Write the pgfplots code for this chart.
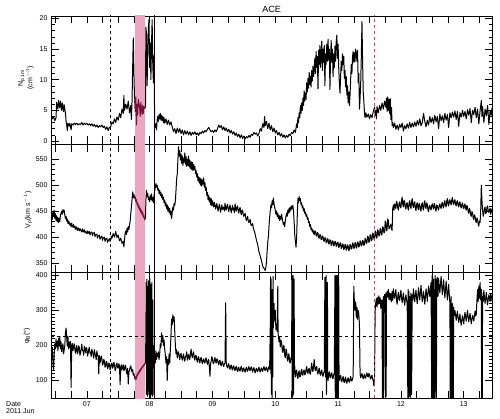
\documentclass[border=0pt]{standalone}
\usepackage{pgfplots}
\usepackage{pgfplotstable}
\pgfplotsset{compat=1.18}
\usepackage{fontspec}
\setmainfont{Liberation Sans}
\definecolor{pinkband}{RGB}{236,166,194}
\definecolor{maroon}{RGB}{118,18,58}
\definecolor{reddash}{RGB}{214,62,92}

\pgfplotstableread{
x y
6.43 4.2
6.45 3.6
6.47 4.0
6.49 3.3
6.51 3.8
6.52 6.3
6.54 5.2
6.55 6.6
6.57 5.4
6.58 6.5
6.60 5.0
6.61 6.2
6.63 4.8
6.64 5.9
6.66 4.5
6.67 3.2
6.68 2.6
6.69 1.7
6.70 2.9
6.72 2.4
6.73 2.9
6.75 1.8
6.76 2.8
6.78 2.6
6.80 2.9
6.82 2.7
6.84 2.9
6.86 2.6
6.88 2.8
6.90 2.7
6.92 3.0
6.94 2.6
6.96 2.9
6.98 2.7
7.00 2.9
7.02 2.6
7.04 2.8
7.06 2.5
7.08 2.8
7.10 2.4
7.12 2.7
7.14 2.3
7.16 2.6
7.18 2.2
7.20 2.5
7.22 2.3
7.24 2.6
7.26 2.2
7.28 2.4
7.30 1.9
7.32 2.3
7.34 1.7
7.36 2.2
7.38 2.3
7.40 3.1
7.42 2.8
7.44 3.6
7.46 3.0
7.48 3.9
7.50 3.4
7.52 4.5
7.54 3.8
7.56 5.2
7.58 4.5
7.59 7.4
7.60 5.0
7.62 6.0
7.64 5.2
7.66 6.5
7.68 4.6
7.70 5.8
7.71 3.5
7.72 6.5
7.73 12.0
7.74 16.8
7.75 11.0
7.76 6.8
}\npA
\pgfplotstableread{
x y
7.76 6.8
7.77 4.8
7.78 7.2
7.79 2.6
7.80 6.0
7.81 4.2
7.82 6.8
7.84 5.5
7.85 4.0
7.86 6.3
7.87 5.2
7.88 4.3
7.89 5.8
7.90 4.5
7.91 5.6
7.92 5.3
7.934 5.5
}\npB
\pgfplotstableread{
x y
7.934 5.5
7.94 18.6
7.95 17.5
7.96 9.0
7.97 14.0
7.98 18.5
7.99 19.8
8.00 12.0
8.01 16.0
8.02 10.0
8.03 15.8
8.04 19.8
8.05 12.5
8.06 9.5
8.07 14.0
8.08 3.0
8.09 2.2
8.10 2.8
8.11 1.8
8.12 3.5
8.13 4.0
8.14 3.2
8.15 4.3
8.16 3.6
8.17 4.5
8.18 3.4
8.19 4.2
8.20 3.3
8.21 4.0
8.22 3.0
8.23 3.8
8.24 2.9
8.26 3.6
8.28 2.7
8.30 3.4
8.32 2.6
8.34 3.1
8.36 2.3
8.38 1.5
8.40 2.0
8.42 1.2
8.44 2.1
8.46 1.4
8.48 2.0
8.50 1.2
8.52 1.8
8.54 1.0
8.56 1.7
8.58 1.1
8.60 1.6
8.62 1.0
8.64 1.5
8.66 0.9
8.68 1.4
8.70 1.1
8.72 1.5
8.74 1.0
8.76 1.3
8.78 0.9
8.80 1.4
8.82 1.2
8.84 1.6
8.86 1.3
8.88 1.7
8.90 1.5
8.92 1.9
8.94 2.2
8.96 1.8
8.98 1.5
9.00 1.7
9.02 1.4
9.04 1.8
9.06 1.5
9.08 2.0
9.10 2.6
9.12 2.2
9.14 2.5
9.16 1.8
9.18 2.3
9.20 1.7
9.22 2.1
9.24 1.5
9.26 1.9
9.28 1.3
9.30 1.7
9.32 1.1
9.34 1.5
9.36 0.9
9.38 1.3
9.40 0.7
9.42 1.1
9.44 0.5
9.46 1.0
9.48 0.4
9.50 0.8
9.52 0.3
9.54 0.7
9.56 0.5
9.58 0.9
9.60 0.6
9.62 1.1
9.64 0.9
9.66 1.4
9.68 1.1
9.70 1.3
9.72 0.8
9.74 1.2
9.76 2.0
9.78 1.6
9.80 2.8
9.82 2.2
9.83 4.0
9.84 2.5
9.86 3.2
9.88 2.0
9.90 2.9
9.92 1.8
9.94 2.5
9.96 1.5
9.98 2.1
10.00 1.3
10.02 1.7
10.04 1.0
10.06 1.4
10.08 0.8
10.10 1.2
10.12 0.6
10.14 1.0
10.16 0.5
10.18 0.9
10.20 0.6
10.22 1.1
10.24 0.9
10.26 1.4
10.28 1.2
10.30 1.8
10.32 1.4
10.34 2.8
10.35 2.2
10.36 3.8
10.37 3.0
10.38 4.6
10.39 3.8
10.40 5.8
10.41 4.5
10.42 6.2
10.43 5.0
10.44 7.0
10.45 5.8
10.46 8.2
10.47 6.5
10.48 7.8
10.49 6.8
10.50 9.5
10.51 8.0
10.52 10.2
10.53 8.6
10.54 11.2
10.55 9.2
10.56 10.6
10.57 8.8
10.58 11.5
10.59 9.8
10.60 12.2
10.61 10.5
10.62 11.8
10.63 13.5
10.64 11.0
10.65 14.6
10.66 12.0
10.67 13.8
10.68 8.5
10.69 14.8
10.70 12.5
10.71 15.6
10.72 12.0
10.73 14.0
10.74 16.3
10.75 11.5
10.76 15.0
10.77 12.8
10.78 15.6
10.79 9.0
10.80 14.2
10.81 12.5
10.82 15.8
10.83 13.0
10.84 16.6
10.85 13.2
10.86 15.0
10.87 8.4
10.88 13.5
10.89 16.4
10.90 12.8
10.91 15.0
10.92 10.5
10.93 14.2
10.94 12.0
10.95 15.5
10.96 13.0
10.97 16.2
10.98 17.3
10.99 13.5
11.00 15.8
11.01 12.0
11.02 9.5
11.03 7.8
11.04 10.5
11.05 13.0
11.06 11.5
11.07 14.2
11.08 12.5
11.09 13.8
11.10 10.2
11.11 11.5
11.12 8.8
11.13 10.5
11.14 7.5
11.15 9.0
11.16 6.2
11.17 8.0
11.18 5.8
11.19 7.5
11.20 10.0
11.21 12.5
11.22 11.0
11.23 13.8
11.24 14.6
11.25 12.8
11.26 14.4
11.27 13.0
11.28 15.0
11.29 14.2
11.30 13.0
11.31 14.8
11.32 9.5
11.33 11.0
11.34 5.2
11.35 7.0
11.36 9.5
11.37 14.0
11.38 19.5
11.39 13.0
11.40 8.0
11.41 6.5
11.42 4.5
11.43 3.8
11.44 4.6
11.46 3.9
11.48 4.4
11.50 3.6
11.52 4.3
11.54 3.8
11.56 4.8
11.58 5.5
11.59 4.2
11.60 5.0
11.61 3.6
11.62 5.6
11.64 4.6
11.66 5.8
11.68 5.0
11.70 6.2
11.72 5.2
11.74 6.5
11.76 5.5
11.77 7.0
11.78 4.8
11.79 7.2
11.80 5.0
11.81 6.8
11.82 4.5
11.83 6.9
11.84 3.5
11.85 5.5
11.86 2.5
11.87 3.0
11.88 2.2
11.90 2.9
11.92 1.9
11.94 2.6
11.96 1.8
11.98 2.7
12.00 2.2
12.02 2.9
12.04 1.6
12.06 2.5
12.08 2.0
12.10 2.8
12.12 2.1
12.14 3.0
12.16 2.2
12.18 2.9
12.20 2.3
12.22 3.1
12.24 2.4
12.26 3.3
12.28 2.6
12.30 3.6
12.32 2.5
12.34 3.0
12.36 4.5
12.38 3.2
12.40 2.3
12.42 3.4
12.44 2.6
12.46 4.0
12.48 3.0
12.50 3.8
12.52 2.8
12.54 4.2
12.56 3.1
12.58 4.0
12.60 2.0
12.62 4.4
12.64 3.3
12.66 4.1
12.68 3.0
12.70 4.5
12.72 3.4
12.74 4.3
12.76 2.2
12.78 4.6
12.80 3.8
12.82 4.7
12.84 3.9
12.86 4.9
12.88 3.5
12.90 4.8
12.92 2.4
12.94 4.6
12.96 3.9
12.98 5.0
13.00 4.0
13.02 4.8
13.04 3.6
13.06 5.1
13.08 4.2
13.10 5.3
13.12 3.0
13.14 5.0
13.16 4.3
13.18 5.5
13.20 3.8
13.22 5.2
13.24 2.8
13.26 4.9
13.28 6.6
13.29 4.0
13.30 5.6
13.32 3.0
13.34 5.2
13.36 4.1
13.38 5.8
13.40 2.7
13.42 5.0
13.44 4.2
13.45 5.4
}\npC

\pgfplotstableread{
x y
6.43 438
6.44 446
6.45 434
6.46 448
6.47 440
6.48 452
6.49 436
6.50 445
6.51 432
6.52 441
6.53 430
6.54 438
6.55 428
6.56 436
6.57 430
6.58 442
6.59 446
6.60 450
6.61 444
6.62 453
6.63 448
6.64 452
6.65 442
6.66 436
6.67 440
6.68 431
6.69 435
6.70 426
6.71 431
6.72 428
6.73 423
6.74 426
6.75 420
6.76 427
6.77 421
6.78 419
6.79 424
6.80 418
6.81 421
6.82 415
6.83 420
6.84 417
6.85 413
6.86 418
6.88 412
6.89 417
6.90 414
6.92 410
6.93 416
6.94 410
6.96 414
6.97 408
6.98 411
7.00 407
7.01 412
7.02 407
7.04 411
7.05 404
7.06 408
7.08 410
7.09 403
7.10 407
7.12 409
7.13 401
7.14 404
7.16 406
7.17 398
7.18 402
7.20 404
7.21 396
7.22 399
7.24 402
7.25 394
7.26 398
7.28 400
7.29 392
7.30 396
7.32 398
7.33 390
7.34 393
7.36 397
7.37 392
7.38 394
7.39 402
7.40 398
7.42 407
7.44 400
7.46 411
7.48 399
7.50 404
7.52 393
7.54 398
7.56 388
7.58 392
7.59 381
7.60 395
7.61 408
7.62 412
7.63 405
7.64 417
7.65 410
7.66 420
7.67 415
7.68 424
7.69 430
7.70 445
7.71 458
7.72 472
7.73 487
7.74 476
7.75 482
7.76 474
}\vpA
\pgfplotstableread{
x y
7.76 474
7.77 478
7.78 468
7.79 472
7.80 462
7.81 466
7.82 456
7.83 461
7.84 452
7.85 456
7.86 447
7.87 452
7.88 443
7.89 448
7.90 438
7.91 442
7.92 433
7.934 436
}\vpB
\pgfplotstableread{
x y
7.934 436
7.94 470
7.95 490
7.96 478
7.97 484
7.98 472
7.99 476
8.00 468
8.01 480
8.02 472
8.03 483
8.04 470
8.05 476
8.06 466
8.07 480
8.08 488
8.09 495
8.10 503
8.11 496
8.12 500
8.13 490
8.14 494
8.15 484
8.16 490
8.17 480
8.18 486
8.19 476
8.20 482
8.21 472
8.22 477
8.23 466
8.24 471
8.25 460
8.26 466
8.27 455
8.28 462
8.29 450
8.30 458
8.31 447
8.32 455
8.33 443
8.34 450
8.35 436
8.36 448
8.37 458
8.38 452
8.39 465
8.40 461
8.41 470
8.42 490
8.43 512
8.44 522
8.45 548
8.46 574
8.47 556
8.48 566
8.49 548
8.50 560
8.51 542
8.52 556
8.53 538
8.54 552
8.55 544
8.56 562
8.57 540
8.58 555
8.59 536
8.60 550
8.61 538
8.62 556
8.63 535
8.64 548
8.65 532
8.66 545
8.67 530
8.68 544
8.69 528
8.70 540
8.71 530
8.72 536
8.73 522
8.74 528
8.75 516
8.76 522
8.77 508
8.78 516
8.79 504
8.80 514
8.81 500
8.82 512
8.83 498
8.84 510
8.85 502
8.86 514
8.87 496
8.88 505
8.89 490
8.90 496
8.91 480
8.92 486
8.93 472
8.94 480
8.95 468
8.96 476
8.97 462
8.98 474
8.99 460
9.00 470
9.01 463
9.02 458
9.03 467
9.04 462
9.05 454
9.06 459
9.07 465
9.08 456
9.09 450
9.10 458
9.11 463
9.12 455
9.13 448
9.14 456
9.15 462
9.16 453
9.18 458
9.19 450
9.20 465
9.21 457
9.22 452
9.23 460
9.24 463
9.25 454
9.26 449
9.27 457
9.28 462
9.29 453
9.30 447
9.31 455
9.32 461
9.33 452
9.34 456
9.35 447
9.36 464
9.37 455
9.38 450
9.39 458
9.40 460
9.41 451
9.42 446
9.43 454
9.44 457
9.45 448
9.46 443
9.47 451
9.48 452
9.49 444
9.50 440
9.52 446
9.53 437
9.54 432
9.56 440
9.57 431
9.58 428
9.60 434
9.61 425
9.62 422
9.64 426
9.65 418
9.66 414
9.68 406
9.70 394
9.72 386
9.74 372
9.76 364
9.78 355
9.80 344
9.82 340
9.84 336
9.85 342
9.86 352
9.87 372
9.88 390
9.89 400
9.90 420
9.91 438
9.92 450
9.93 462
9.94 456
9.95 470
9.96 462
9.97 475
9.98 464
9.99 458
10.00 452
10.01 444
10.02 450
10.03 440
10.04 446
10.05 436
10.06 442
10.07 432
10.08 440
10.09 434
10.10 444
10.11 436
10.12 430
10.13 424
10.14 428
10.15 420
10.16 432
10.17 440
10.18 446
10.19 440
10.20 452
10.21 446
10.22 456
10.23 448
10.24 458
10.25 452
10.26 460
10.27 455
10.28 461
10.29 450
10.30 430
10.31 405
10.32 392
10.33 381
10.34 398
10.35 440
10.36 474
10.37 466
10.38 478
10.39 470
10.40 474
10.41 462
10.42 466
10.43 456
10.44 460
10.45 450
10.46 455
10.47 445
10.48 448
10.49 440
10.50 444
10.51 434
10.52 438
10.53 428
10.54 430
10.55 420
10.56 424
10.57 414
10.58 418
10.59 410
10.60 414
10.61 407
10.62 405
10.63 412
10.64 411
10.65 403
10.66 402
10.67 409
10.68 408
10.69 399
10.70 398
10.71 405
10.72 404
10.73 395
10.74 396
10.75 402
10.76 401
10.77 393
10.78 392
10.79 399
10.80 398
10.81 389
10.82 390
10.83 397
10.84 396
10.85 387
10.86 388
10.87 395
10.88 394
10.89 384
10.90 386
10.91 393
10.92 392
10.93 383
10.94 385
10.95 392
10.96 391
10.97 382
10.98 384
10.99 390
11.00 390
11.01 380
11.02 382
11.03 389
11.04 388
11.05 378
11.06 380
11.07 387
11.08 386
11.09 376
11.10 378
11.11 386
11.12 385
11.13 375
11.14 377
11.15 385
11.16 383
11.17 374
11.18 376
11.19 386
11.20 384
11.21 377
11.22 379
11.23 389
11.24 387
11.25 378
11.26 380
11.27 390
11.28 388
11.29 379
11.30 381
11.31 391
11.32 389
11.33 381
11.34 383
11.35 393
11.36 391
11.37 383
11.38 385
11.39 394
11.40 392
11.41 384
11.42 386
11.43 398
11.44 396
11.45 388
11.46 390
11.47 402
11.48 400
11.49 390
11.50 392
11.51 405
11.52 403
11.53 393
11.54 395
11.55 408
11.56 406
11.57 396
11.58 398
11.59 412
11.60 410
11.61 398
11.62 400
11.63 414
11.64 412
11.65 402
11.66 404
11.67 417
11.68 415
11.69 404
11.70 406
11.71 420
11.72 418
11.73 408
11.74 410
11.75 431
11.76 428
11.77 412
11.78 415
11.79 435
11.80 432
11.81 416
11.82 418
11.84 425
11.85 416
11.86 413
11.87 455
11.88 462
11.89 452
11.90 464
11.91 458
11.92 455
11.93 469
11.94 466
11.95 456
11.96 452
11.97 464
11.98 468
11.99 459
12.00 456
12.01 470
12.02 477
12.03 462
12.04 458
12.05 471
12.06 468
12.07 457
12.08 454
12.09 465
12.10 466
12.11 456
12.12 452
12.13 466
12.14 470
12.15 459
12.16 455
12.17 469
12.18 474
12.19 460
12.20 457
12.21 466
12.22 468
12.23 455
12.24 451
12.25 463
12.26 466
12.27 456
12.28 453
12.29 465
12.30 462
12.31 453
12.32 450
12.33 463
12.34 466
12.35 455
12.36 452
12.37 466
12.38 470
12.39 458
12.40 455
12.41 466
12.42 463
12.43 452
12.44 449
12.45 459
12.46 461
12.47 455
12.48 452
12.49 461
12.50 464
12.51 457
12.52 454
12.53 465
12.54 462
12.55 453
12.56 450
12.57 462
12.58 460
12.59 455
12.60 452
12.61 461
12.62 464
12.63 458
12.64 455
12.65 464
12.66 467
12.67 459
12.68 456
12.69 467
12.70 470
12.71 461
12.72 458
12.73 470
12.74 474
12.75 463
12.76 460
12.77 470
12.78 472
12.79 465
12.80 462
12.81 472
12.82 476
12.83 466
12.84 463
12.85 470
12.86 472
12.87 463
12.88 460
12.89 468
12.90 470
12.91 461
12.92 458
12.93 466
12.94 468
12.95 459
12.96 456
12.97 463
12.98 466
12.99 458
13.00 455
13.01 461
13.02 464
13.03 455
13.04 452
13.05 461
13.06 458
13.07 449
13.08 446
13.09 455
13.10 452
13.11 443
13.12 440
13.13 449
13.14 447
13.15 437
13.16 434
13.17 443
13.18 440
13.19 431
13.20 428
13.21 437
13.22 434
13.23 424
13.24 421
13.25 431
13.26 428
13.27 450
13.28 500
13.29 470
13.30 452
13.31 440
13.32 446
13.33 455
13.34 458
13.35 445
13.36 448
13.37 457
13.38 460
13.39 450
13.40 447
13.41 452
13.42 456
13.43 444
13.44 449
13.45 455
}\vpC

\pgfplotstableread{
x y
6.43 188
6.44 172
6.45 195
6.46 150
6.47 128
6.48 170
6.49 205
6.50 190
6.51 218
6.52 196
6.53 212
6.54 185
6.55 220
6.56 198
6.57 226
6.58 190
6.59 210
6.60 182
6.61 196
6.62 205
6.63 176
6.64 188
6.65 200
6.66 236
6.67 250
6.68 222
6.69 198
6.70 226
6.71 190
6.72 210
6.73 194
6.74 212
6.75 80
6.76 198
6.77 206
6.78 185
6.79 196
6.80 205
6.81 188
6.82 178
6.83 192
6.84 200
6.85 176
6.86 182
6.87 199
6.88 195
6.89 172
6.90 178
6.91 190
6.92 204
6.93 186
6.94 185
6.95 172
6.96 198
6.97 188
6.98 180
6.99 194
7.00 192
7.01 170
7.02 176
7.03 188
7.04 195
7.05 178
7.06 181
7.07 168
7.08 190
7.09 182
7.10 174
7.11 164
7.12 188
7.13 178
7.14 170
7.15 160
7.16 185
7.17 174
7.18 168
7.19 120
7.20 172
7.21 150
7.22 158
7.23 170
7.24 164
7.25 144
7.26 148
7.27 160
7.28 156
7.29 138
7.30 140
7.31 155
7.32 152
7.33 134
7.34 138
7.35 150
7.36 148
7.37 130
7.38 136
7.39 148
7.40 150
7.41 135
7.42 140
7.43 152
7.44 146
7.45 128
7.46 132
7.47 145
7.48 150
7.49 138
7.50 135
7.51 148
7.52 142
7.53 88
7.54 138
7.55 145
7.56 130
7.57 138
7.58 145
7.59 128
7.60 132
7.61 144
7.62 140
7.63 125
7.64 118
7.65 135
7.66 90
7.67 124
7.68 130
7.69 138
7.70 142
7.71 130
7.72 124
7.73 132
7.74 115
7.75 120
7.76 108
}\phA
\pgfplotstableread{
x y
7.76 108
7.77 102
7.78 112
7.79 104
7.80 118
7.81 114
7.82 125
7.83 120
7.84 130
7.85 126
7.86 134
7.87 132
7.88 140
7.89 137
7.90 145
7.91 142
7.92 148
7.934 150
}\phB
\pgfplotstableread{
x y
7.934 150
7.94 230
7.945 380
7.95 60
7.955 390
7.96 140
7.965 370
7.97 55
7.975 360
7.98 70
7.985 385
7.99 210
7.995 60
8.00 300
8.005 390
8.01 50
8.015 375
8.02 90
8.025 340
8.03 60
8.035 380
8.04 150
8.045 55
8.05 330
8.055 60
8.06 200
8.07 160
8.08 175
8.09 150
8.10 185
8.11 160
8.12 178
8.13 168
8.14 182
8.15 160
8.16 175
8.17 205
8.18 195
8.19 236
8.20 210
8.21 228
8.22 200
8.23 215
8.24 190
8.25 172
8.26 150
8.27 168
8.28 100
8.29 160
8.30 145
8.31 176
8.32 150
8.33 190
8.34 230
8.35 276
8.36 260
8.37 288
8.38 268
8.39 282
8.40 240
8.41 200
8.42 176
8.43 188
8.44 165
8.45 176
8.46 182
8.47 170
8.48 160
8.49 172
8.50 178
8.51 166
8.52 158
8.53 168
8.54 176
8.55 162
8.56 155
8.57 168
8.58 170
8.59 182
8.60 158
8.61 168
8.62 175
8.63 162
8.64 160
8.65 178
8.66 190
8.67 172
8.68 165
8.69 176
8.70 182
8.71 166
8.72 158
8.73 170
8.74 172
8.75 160
8.76 152
8.77 164
8.78 168
8.79 156
8.80 150
8.81 162
8.82 166
8.83 155
8.84 148
8.85 158
8.86 162
8.87 152
8.88 150
8.89 160
8.90 165
8.91 154
8.92 146
8.93 156
8.94 160
8.95 140
8.96 112
8.97 148
8.98 155
8.99 168
9.00 162
9.01 150
9.02 148
9.03 158
9.04 166
9.05 154
9.06 150
9.07 162
9.08 160
9.09 150
9.10 145
9.11 156
9.12 158
9.13 146
9.14 142
9.15 152
9.16 155
9.17 144
9.18 140
9.19 148
9.20 150
9.21 322
9.22 145
9.23 140
9.24 136
9.25 146
9.26 148
9.27 135
9.28 132
9.29 142
9.30 144
9.31 133
9.32 130
9.33 140
9.34 142
9.35 132
9.36 128
9.37 138
9.38 140
9.39 130
9.40 126
9.41 136
9.42 138
9.43 128
9.44 127
9.45 136
9.46 140
9.47 130
9.48 125
9.49 134
9.50 136
9.51 127
9.52 124
9.53 132
9.54 138
9.55 130
9.56 126
9.57 135
9.58 140
9.59 131
9.60 128
9.61 136
9.62 139
9.63 130
9.64 124
9.65 133
9.66 137
9.67 128
9.68 122
9.69 130
9.70 135
9.71 128
9.72 125
9.73 133
9.74 138
9.75 130
9.76 124
9.77 132
9.78 136
9.79 129
9.80 126
9.81 135
9.82 140
9.83 132
9.84 128
9.85 136
9.86 138
9.87 130
9.88 125
9.89 134
9.90 140
9.91 132
9.92 250
9.925 396
9.93 120
9.935 390
9.94 60
9.945 300
9.95 46
9.955 360
9.96 110
9.965 398
9.97 250
9.98 320
9.99 270
10.00 300
10.01 245
10.02 262
10.03 240
10.04 369
10.045 230
10.05 228
10.06 210
10.07 224
10.08 196
10.09 215
10.10 210
10.11 188
10.12 180
10.13 200
10.14 198
10.15 172
10.16 165
10.17 190
10.18 185
10.19 162
10.20 155
10.21 176
10.22 172
10.23 152
10.24 150
10.25 166
10.26 160
10.265 400
10.27 50
10.275 395
10.28 55
10.285 400
10.29 60
10.30 390
10.305 120
10.31 140
10.32 110
10.33 124
10.34 130
10.35 112
10.36 105
10.37 122
10.38 128
10.39 110
10.40 112
10.41 126
10.42 132
10.43 116
10.44 115
10.45 128
10.46 130
10.47 116
10.48 118
10.49 132
10.50 140
10.51 124
10.52 120
10.53 132
10.54 135
10.55 120
10.56 118
10.57 135
10.58 150
10.59 130
10.60 125
10.61 142
10.62 160
10.63 134
10.64 128
10.65 138
10.66 140
10.67 124
10.68 118
10.69 130
10.70 135
10.71 120
10.72 115
10.73 126
10.74 130
10.75 116
10.76 112
10.77 122
10.78 125
10.79 395
10.795 130
10.80 110
10.81 400
10.815 60
10.82 120
10.83 380
10.835 120
10.84 100
10.85 116
10.86 125
10.87 110
10.88 108
10.89 120
10.90 122
10.91 108
10.92 105
10.93 118
10.94 120
10.95 400
10.955 50
10.96 398
10.965 46
10.97 400
10.975 55
10.98 395
10.985 50
10.99 400
10.995 60
11.00 380
11.005 48
11.01 395
11.015 110
11.02 100
11.03 108
11.04 115
11.05 100
11.06 96
11.07 106
11.08 112
11.09 98
11.10 94
11.11 104
11.12 110
11.13 96
11.14 92
11.15 102
11.16 108
11.17 98
11.18 95
11.19 104
11.20 112
11.21 100
11.22 98
11.23 106
11.24 110
11.25 369
11.26 320
11.27 300
11.28 325
11.29 280
11.30 310
11.31 275
11.32 300
11.33 290
11.34 260
11.35 118
11.36 108
11.37 116
11.38 120
11.39 110
11.40 105
11.41 114
11.42 118
11.43 106
11.44 108
11.45 116
11.46 122
11.47 112
11.48 110
11.49 120
11.50 118
11.51 108
11.52 104
11.53 112
11.54 115
11.55 104
11.56 100
11.57 84
11.58 112
11.59 300
11.60 322
11.61 335
11.62 310
11.63 338
11.64 318
11.65 342
11.66 320
11.67 336
11.68 306
11.69 330
11.70 312
11.705 50
11.71 330
11.715 48
11.72 340
11.725 52
11.73 300
11.74 346
11.75 328
11.755 50
11.76 350
11.765 55
11.77 335
11.78 355
11.79 338
11.80 360
11.81 332
11.82 350
11.83 330
11.84 348
11.85 325
11.86 355
11.87 330
11.88 362
11.89 340
11.90 335
11.91 350
11.92 360
11.93 330
11.94 318
11.95 340
11.96 352
11.97 332
11.98 328
11.99 346
12.00 358
12.01 336
12.02 322
12.03 338
12.04 350
12.05 328
12.06 315
12.07 332
12.08 345
12.09 330
12.10 320
12.11 50
12.115 360
12.12 50
12.125 355
12.13 55
12.14 340
12.15 52
12.16 350
12.17 60
12.18 345
12.19 330
12.20 362
12.21 340
12.22 325
12.23 346
12.24 358
12.25 335
12.26 320
12.27 342
12.28 365
12.29 345
12.30 330
12.31 352
12.32 372
12.33 345
12.34 325
12.35 340
12.36 355
12.37 335
12.38 318
12.39 340
12.40 362
12.41 345
12.42 326
12.43 350
12.44 370
12.45 352
12.46 340
12.47 362
12.48 380
12.49 50
12.495 400
12.50 60
12.505 395
12.51 46
12.52 390
12.525 50
12.53 360
12.54 52
12.545 400
12.55 70
12.56 390
12.565 48
12.57 370
12.58 395
12.59 340
12.60 392
12.61 365
12.62 350
12.63 375
12.64 398
12.65 370
12.66 345
12.67 365
12.68 388
12.69 360
12.70 336
12.71 360
12.72 384
12.73 355
12.74 330
12.75 352
12.76 375
12.77 345
12.78 320
12.785 50
12.79 330
12.795 48
12.80 340
12.805 52
12.81 310
12.815 46
12.82 320
12.825 55
12.83 300
12.835 50
12.84 310
12.85 285
12.86 300
12.87 288
12.88 272
12.89 285
12.90 298
12.91 280
12.92 266
12.93 278
12.94 290
12.95 270
12.96 258
12.97 272
12.98 285
12.99 275
13.00 262
13.01 280
13.02 295
13.03 282
13.04 270
13.05 286
13.06 300
13.07 282
13.08 268
13.09 280
13.10 292
13.11 276
13.12 262
13.13 274
13.14 286
13.15 280
13.16 270
13.17 285
13.18 298
13.19 284
13.20 290
13.21 330
13.22 360
13.23 325
13.24 370
13.25 335
13.26 380
13.27 330
13.28 360
13.285 46
13.29 350
13.295 50
13.30 340
13.31 325
13.32 358
13.33 338
13.34 320
13.35 336
13.36 352
13.37 330
13.38 316
13.39 332
13.40 345
13.41 335
13.42 325
13.43 348
13.44 340
13.45 330
}\phC

\pgfplotsset{
  panel/.style={
    scale only axis, width=441pt,
    xmin=6.43, xmax=13.45,
    xtick={6.5,6.75,...,13.25},
    xticklabels={},
    tick align=inside,
    xtick pos=both, ytick pos=both, yticklabel pos=left,
    major tick length=7.5pt, minor tick length=3.5pt,
    every tick/.append style={black, line width=0.6pt},
    every minor tick/.append style={black, line width=0.5pt},
    ticklabel style={font=\fontsize{7}{8}\selectfont},
    /pgf/number format/assume math mode=true,
    axis line style={line width=0.8pt},
    clip=true,
  },
  dataline/.style={black, line width=1pt, line join=round},
  bandline/.style={maroon, line width=1pt, line join=round},
}

\begin{document}
\begin{tikzpicture}[x=1pt,y=1pt]
\useasboundingbox (0,0) rectangle (500,418);

% Panel 1: Np
\begin{axis}[panel, at={(51pt,274pt)}, anchor=south west, height=128pt,
  ymin=-0.5, ymax=20.4, ytick={0,5,10,15,20}, minor y tick num=4]
  \addplot[fill=pinkband, draw=none] coordinates {(7.764,-5) (7.764,25) (7.934,25) (7.934,-5)} -- cycle;
  \addplot[dataline] table {\npA};
  \addplot[bandline] table {\npB};
  \addplot[dataline] table {\npC};
  \addplot[black, dashed, line width=0.7pt] coordinates {(7.382,-5) (7.382,25)};
  \addplot[black, line width=0.8pt] coordinates {(8.082,-5) (8.082,25)};
  \addplot[reddash, dashed, line width=0.8pt] coordinates {(11.585,-5) (11.585,25)};
\end{axis}

% Panel 2: Vp
\begin{axis}[panel, at={(51pt,146pt)}, anchor=south west, height=128pt,
  ymin=333, ymax=579, ytick={350,400,450,500,550}, minor y tick num=4]
  \addplot[fill=pinkband, draw=none] coordinates {(7.764,300) (7.764,600) (7.934,600) (7.934,300)} -- cycle;
  \addplot[dataline] table {\vpA};
  \addplot[bandline] table {\vpB};
  \addplot[dataline] table {\vpC};
  \addplot[black, dashed, line width=0.7pt] coordinates {(7.382,300) (7.382,600)};
  \addplot[black, line width=0.8pt] coordinates {(8.082,300) (8.082,600)};
  \addplot[reddash, dashed, line width=0.8pt] coordinates {(11.585,300) (11.585,600)};
\end{axis}

% Panel 3: phi_B
\begin{axis}[panel, at={(51pt,20pt)}, anchor=south west, height=126pt,
  ymin=50, ymax=410, ytick={100,200,300,400}, minor y tick num=9,
  xticklabels={,,07,,,,08,,,,09,,,,10,,,,11,,,,12,,,,13,}, xticklabel pos=bottom]
  \addplot[fill=pinkband, draw=none] coordinates {(7.764,0) (7.764,450) (7.934,450) (7.934,0)} -- cycle;
  \addplot[dataline] table {\phA};
  \addplot[bandline] table {\phB};
  \addplot[dataline] table {\phC};
  \addplot[black, dashed, line width=0.8pt] coordinates {(6.43,226) (13.45,226)};
  \addplot[black, dashed, line width=0.7pt] coordinates {(7.382,0) (7.382,450)};
  \addplot[black, line width=0.8pt] coordinates {(8.082,0) (8.082,450)};
  \addplot[reddash, dashed, line width=0.8pt] coordinates {(11.585,0) (11.585,450)};
\end{axis}

\node[font=\fontsize{9}{10}\selectfont] at (271.5,409) {ACE};
\node[rotate=90, align=center, font=\fontsize{7}{8}\selectfont] at (26,340) {N\textsubscript{p 1m}\\(cm$^{-3}$)};
\node[rotate=90, font=\fontsize{7}{8}\selectfont] at (28,208) {V\textsubscript{p}(km s$^{-1}$)};
\node[rotate=90, font=\fontsize{7}{8}\selectfont] at (27,82) {φ\textsubscript{B}(°)};
\node[anchor=north west, align=left, inner sep=0pt, font=\fontsize{7}{7.2}\selectfont] at (6,17) {Date\\2011 Jun};
\end{tikzpicture}
\end{document}
